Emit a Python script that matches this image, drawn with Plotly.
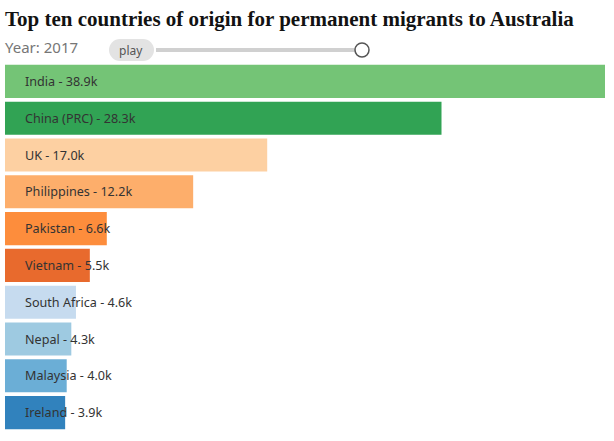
import plotly.graph_objects as go

# permanent migrants by country of origin, 2017 (thousands)
countries = ['India', 'China (PRC)', 'UK', 'Philippines', 'Pakistan',
             'Vietnam', 'South Africa', 'Nepal', 'Malaysia', 'Ireland']
migrants = [38.9, 28.3, 17.0, 12.2, 6.6, 5.5, 4.6, 4.3, 4.0, 3.9]
colours = ['#74c476', '#31a354', '#fdd0a2', '#fdae6b', '#fd8d3c',
           '#e86a2d', '#c6dbef', '#9ecae1', '#6baed6', '#3182bd']
year = '2017'

W, H = 614, 441
L, R, T, B = 5, 9, 63, 10
pw, ph = W - L - R, H - T - B


def px(x):
    '''pixel x to paper coords'''
    return (x - L) / pw


def py(y):
    '''pixel y to paper coords'''
    return (H - B - y) / ph


fig = go.Figure(go.Bar(
    x=migrants, y=countries, orientation='h',
    marker_color=colours, marker_line_width=0,
    hoverinfo='skip',
))

# labels sit inside the bar, just right of its start
for c, v in zip(countries, migrants):
    fig.add_annotation(x=0, y=c, xref='x', yref='y', text=f'{c} - {v:.1f}k',
                       showarrow=False, xanchor='left', xshift=18,
                       font=dict(family='Noto Sans', size=12.6, color='#333333'))

# fake play button + slider
shapes = [
    dict(type='rect', x0=px(120), x1=px(143), y0=py(61), y1=py(39),
         fillcolor='#e3e3e3', line_width=0),
    dict(type='circle', x0=px(109), x1=px(131), y0=py(61), y1=py(39),
         fillcolor='#e3e3e3', line_width=0),
    dict(type='circle', x0=px(132), x1=px(154), y0=py(61), y1=py(39),
         fillcolor='#e3e3e3', line_width=0),
    dict(type='line', x0=px(156), x1=px(356), y0=py(50), y1=py(50),
         line=dict(color='#d0d0d0', width=4)),
    dict(type='circle', x0=px(355), x1=px(369), y0=py(57), y1=py(43),
         fillcolor='white', line=dict(color='#555555', width=1.5)),
]
for s in shapes:
    s.update(xref='paper', yref='paper', layer='above')

fig.add_annotation(x=px(131), y=py(50), xref='paper', yref='paper', text='play',
                   showarrow=False, xanchor='center', yanchor='middle',
                   font=dict(family='Noto Sans', size=12, color='#555555'))
fig.add_annotation(x=px(3), y=py(47), xref='paper', yref='paper',
                   text=f'Year: {year}', showarrow=False,
                   xanchor='left', yanchor='middle',
                   font=dict(family='Noto Sans', size=15, color='#767676'))

fig.update_layout(
    width=W, height=H,
    margin=dict(l=L, r=R, t=T, b=B),
    title=dict(text='<b>Top ten countries of origin for permanent migrants to Australia</b>',
               x=px(5), xref='paper', xanchor='left', y=1 - 19 / H, yanchor='middle',
               font=dict(family='Liberation Serif', size=21, color='#121212')),
    shapes=shapes,
    bargap=0.1,
    showlegend=False,
    plot_bgcolor='white', paper_bgcolor='white',
    xaxis=dict(range=[0, max(migrants)], visible=False, fixedrange=True),
    yaxis=dict(categoryorder='array', categoryarray=countries,
               autorange='reversed', visible=False, fixedrange=True),
)

fig.write_html('out.html', config={'displayModeBar': False},
               post_script="document.body.style.margin='0';")
